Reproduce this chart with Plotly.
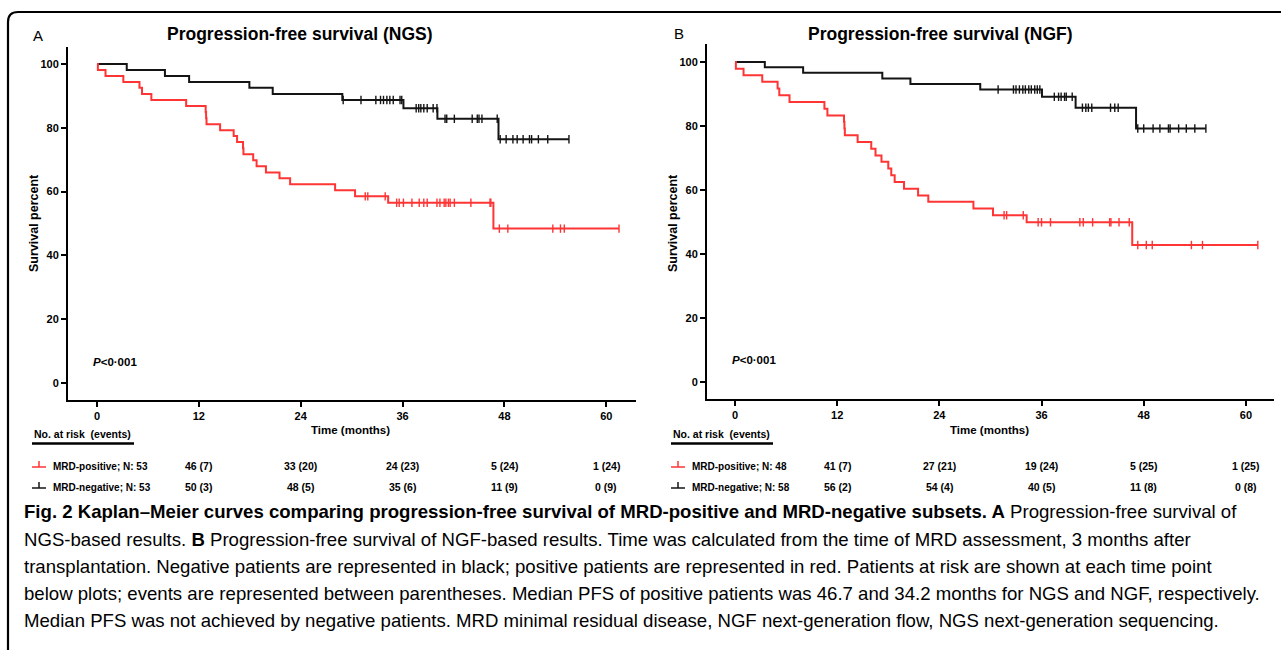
import numpy as np
import plotly.graph_objects as go

W, H = 1281, 650

# ---------------- data ----------------
# NGS panel (A)
ngs_pos_t = [0.1, 1.0, 3.1, 5.0, 5.3, 6.4, 10.5, 12.8, 12.85, 12.9, 14.5, 16.1, 16.5, 17.2, 17.25,
             18.4, 18.8, 19.9, 21.5, 22.75, 28.05, 30.4, 34.3, 46.7]
ngs_pos_s = [98.1, 96.2, 94.3, 92.5, 90.6, 88.7, 86.8, 84.9, 83.0, 81.1, 79.2, 77.4, 75.5, 73.6, 71.7,
             69.8, 67.9, 66.0, 64.2, 62.3, 60.4, 58.5, 56.5, 48.4]
ngs_pos_end = 61.5
ngs_pos_cens = [31.6, 31.9, 33.95, 35.3, 35.6, 36.1, 37.1, 37.96, 38.5, 38.9, 40.05, 40.4, 40.9, 41.1,
                41.4, 41.6, 42.1, 44.05, 46.3, 46.4, 47.4, 48.4, 53.7, 54.6, 55.05, 61.5]

ngs_neg_t = [3.5, 8.0, 10.85, 17.95, 20.7, 28.9, 36.1, 40.1, 47.3]
ngs_neg_s = [98.1, 96.2, 94.3, 92.5, 90.6, 88.7, 86.1, 82.8, 76.4]
ngs_neg_end = 55.6
ngs_neg_cens = [29.0, 31.1, 32.85, 33.4, 33.75, 34.15, 34.5, 34.9, 35.7, 35.9, 37.6, 37.9, 38.15,
                38.5, 38.9, 39.6, 40.05, 41.0, 41.2, 42.1, 44.2, 44.8, 45.0, 45.35, 47.15, 47.5,
                48.2, 49.0, 49.5, 50.2, 50.95, 51.2, 52.0, 53.1, 55.6]

# NGF panel (B)
ngf_pos_t = [0.1, 1.0, 3.2, 5.0, 5.2, 6.4, 10.5, 10.85, 12.8, 12.85, 12.9, 14.4, 16.0, 16.5, 17.2,
             18.0, 18.35, 18.75, 19.85, 21.5, 22.7, 28.0, 30.3, 34.25, 46.65]
ngf_pos_s = [97.9, 95.8, 93.8, 91.7, 89.6, 87.5, 85.4, 83.3, 81.3, 79.2, 77.1, 75.0, 72.9, 70.8, 68.8,
             66.7, 64.6, 62.5, 60.4, 58.3, 56.3, 54.2, 52.1, 49.9, 42.8]
ngf_pos_end = 61.4
ngf_pos_cens = [31.6, 31.9, 33.85, 35.6, 36.0, 37.05, 40.5, 40.9, 42.0, 44.0, 44.15, 45.1, 46.3,
                47.3, 48.3, 49.0, 53.6, 54.9, 61.4]

ngf_neg_t = [3.5, 8.0, 17.3, 20.6, 28.8, 36.05, 40.0, 47.1]
ngf_neg_s = [98.3, 96.6, 94.8, 93.1, 91.4, 89.1, 85.7, 79.2]
ngf_neg_end = 55.3
ngf_neg_cens = [30.9, 32.7, 33.0, 33.4, 33.8, 34.1, 34.5, 34.8, 35.2, 35.5, 35.8, 37.5, 38.0, 38.3,
                38.7, 38.9, 39.6, 40.8, 41.2, 41.5, 41.9, 44.1, 44.6, 45.0, 47.3, 48.0, 49.1, 49.9,
                50.9, 51.1, 52.1, 53.0, 54.0, 55.3]

x_ticks = [0, 12, 24, 36, 48, 60]
y_ticks = [0, 20, 40, 60, 80, 100]

risk_times = [12, 24, 36, 48, 60]
ngs_pos_risk = ["46 (7)", "33 (20)", "24 (23)", "5 (24)", "1 (24)"]
ngs_neg_risk = ["50 (3)", "48 (5)", "35 (6)", "11 (9)", "0 (9)"]
ngf_pos_risk = ["41 (7)", "27 (21)", "19 (24)", "5 (25)", "1 (25)"]
ngf_neg_risk = ["56 (2)", "54 (4)", "40 (5)", "11 (8)", "0 (8)"]

pos_labels = ["MRD-positive; N: 53", "MRD-positive; N: 48"]
neg_labels = ["MRD-negative; N: 53", "MRD-negative; N: 58"]
titles = ["Progression-free survival (NGS)", "Progression-free survival (NGF)"]
letters = ["A", "B"]

caption_lines = [
    "<b>Fig. 2 Kaplan–Meier curves comparing progression-free survival of MRD-positive and MRD-negative subsets. A</b> Progression-free survival of",
    "NGS-based results. <b>B</b> Progression-free survival of NGF-based results. Time was calculated from the time of MRD assessment, 3 months after",
    "transplantation. Negative patients are represented in black; positive patients are represented in red. Patients at risk are shown at each time point",
    "below plots; events are represented between parentheses. Median PFS of positive patients was 46.7 and 34.2 months for NGS and NGF, respectively.",
    "Median PFS was not achieved by negative patients. MRD minimal residual disease, NGF next-generation flow, NGS next-generation sequencing.",
]

# ---------------- style ----------------
RED = "#ff3434"
BLK = "#141414"
CF = "Liberation Sans, Arial"
CAPF = "Liberation Sans, Arial"


def px(x):
    return x / W


def py(y):
    return 1 - y / H


def level(times, surv, t):
    i = np.searchsorted(np.array(times), t, side="right") - 1
    return 100.0 if i < 0 else surv[i]


fig = go.Figure()

panels = [
    dict(xa="x", ya="y", pos=(ngs_pos_t, ngs_pos_s, ngs_pos_end, ngs_pos_cens),
         neg=(ngs_neg_t, ngs_neg_s, ngs_neg_end, ngs_neg_cens)),
    dict(xa="x2", ya="y2", pos=(ngf_pos_t, ngf_pos_s, ngf_pos_end, ngf_pos_cens),
         neg=(ngf_neg_t, ngf_neg_s, ngf_neg_end, ngf_neg_cens)),
]

for p in panels:
    for key, col in (("neg", BLK), ("pos", RED)):
        t, s, end, cens = p[key]
        xs = [0] + list(t) + [end]
        ys = [100] + list(s) + [s[-1]]
        fig.add_trace(go.Scatter(x=xs, y=ys, mode="lines", line=dict(color=col, width=2, shape="hv"),
                                 xaxis=p["xa"], yaxis=p["ya"], showlegend=False, hoverinfo="skip"))
        cy = [level(t, s, c) for c in cens]
        fig.add_trace(go.Scatter(x=cens, y=cy, mode="markers",
                                 marker=dict(symbol="line-ns", size=6, line=dict(color=col, width=1.4)),
                                 xaxis=p["xa"], yaxis=p["ya"], showlegend=False, hoverinfo="skip"))

axis_common = dict(showline=True, linecolor="black", linewidth=2, ticks="outside", ticklen=5,
                   tickwidth=1.5, tickcolor="black", showgrid=False, zeroline=False,
                   tickfont=dict(family=CF, size=11, color="black", weight="bold"))

fig.update_layout(
    width=W, height=H, margin=dict(l=0, r=0, t=0, b=0),
    paper_bgcolor="white", plot_bgcolor="white",
    xaxis=dict(domain=[px(68), px(636)], range=[-3.42, 63.5], tickvals=x_ticks, anchor="y", **axis_common),
    yaxis=dict(domain=[py(400), py(47)], range=[-5.3, 105.3], tickvals=y_ticks, anchor="x", **axis_common),
    xaxis2=dict(domain=[px(707), px(1274)], range=[-3.29, 63.3], tickvals=x_ticks, anchor="y2", **axis_common),
    yaxis2=dict(domain=[py(399), py(44)], range=[-5.3, 105.6], tickvals=y_ticks, anchor="x2", **axis_common),
)

ann = []
shapes = []


def text(x, y, s, size, bold=False, xanchor="center", family=CF, angle=0, xref="paper"):
    ann.append(dict(x=x, y=y, xref=xref, yref="paper", text=s, showarrow=False, xanchor=xanchor,
                    yanchor="middle", textangle=angle,
                    font=dict(family=family, size=size, color="black", weight="bold" if bold else "normal")))


offs = [0, 639]
title_x = [300, 940]
letter_pos = [(38, 35), (679, 34)]
ylab_x = [34, 673]
p_x = [91, 730]
p_y = [362, 360]
time_x = [350, 989]
risk_pos = [ngs_pos_risk, ngf_pos_risk]
risk_neg = [ngs_neg_risk, ngf_neg_risk]
xrefs = ["x", "x2"]

for k in range(2):
    o = offs[k]
    text(px(title_x[k]), py(34), titles[k], 17.5, bold=True)
    text(px(letter_pos[k][0]), py(letter_pos[k][1]), letters[k], 15)
    text(px(ylab_x[k]), py(223), "Survival percent", 12.5, bold=True, angle=-90)
    text(px(p_x[k]), py(p_y[k]), "<i>P</i>&lt;0·001", 11.5, bold=True, xanchor="left")
    text(px(time_x[k]), py(430), "Time (months)", 11.5, bold=True)
    text(px(o + 32), py(434), "No. at risk  (events)", 10.5, bold=True, xanchor="left")
    shapes.append(dict(type="line", xref="paper", yref="paper", x0=px(o + 32), x1=px(o + 134),
                       y0=py(443.5), y1=py(443.5), line=dict(color="black", width=2.5)))
    for row_y, col, lab, vals in ((466, RED, pos_labels[k], risk_pos[k]), (487, BLK, neg_labels[k], risk_neg[k])):
        shapes.append(dict(type="line", xref="paper", yref="paper", x0=px(o + 32), x1=px(o + 46),
                           y0=py(row_y + 1), y1=py(row_y + 1), line=dict(color=col, width=1.5)))
        shapes.append(dict(type="line", xref="paper", yref="paper", x0=px(o + 39), x1=px(o + 39),
                           y0=py(row_y + 1), y1=py(row_y - 5), line=dict(color=col, width=1.5)))
        text(px(o + 51), py(row_y), lab, 10, bold=True, xanchor="left")
        for t, v in zip(risk_times, vals):
            text(t, py(row_y), v, 10.5, bold=True, xref=xrefs[k])

cap_y = [511, 539, 566, 593, 620]
for yy, line in zip(cap_y, caption_lines):
    text(px(22), py(yy), line, 18.6, xanchor="left", family=CAPF)

# rounded outer frame
shapes.append(dict(type="path", xref="paper", yref="paper",
                   path=f"M {px(8)} {py(652)} L {px(8)} {py(22)} Q {px(8)} {py(12)} {px(18)} {py(12)} L {px(1290)} {py(12)}",
                   line=dict(color="black", width=2.2)))

fig.update_layout(annotations=ann, shapes=shapes)
fig.write_html("out.html")
